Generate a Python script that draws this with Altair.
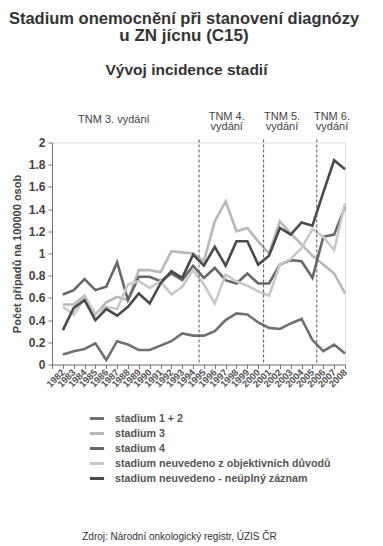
import altair as alt
import pandas as pd

years = list(range(1982, 2009))
axis_years = list(range(1981, 2009))

stadium_12 = [0.09, 0.12, 0.14, 0.19, 0.04, 0.21, 0.18, 0.13, 0.13, 0.17, 0.21, 0.28, 0.26,
              0.26, 0.30, 0.40, 0.46, 0.45, 0.38, 0.33, 0.32, 0.37, 0.41, 0.22, 0.12, 0.18, 0.10]
stadium_3 = [0.54, 0.54, 0.62, 0.45, 0.56, 0.61, 0.58, 0.85, 0.85, 0.83, 1.02, 1.01, 1.00,
             0.93, 1.29, 1.47, 1.20, 1.23, 1.11, 1.00, 1.29, 1.18, 1.08, 0.98, 0.90, 0.82, 0.64]
stadium_4 = [0.63, 0.67, 0.77, 0.67, 0.70, 0.92, 0.58, 0.79, 0.79, 0.75, 0.82, 0.76, 0.89,
             0.78, 0.87, 0.76, 0.73, 0.82, 0.73, 0.73, 0.90, 0.94, 0.93, 0.78, 1.15, 1.17, 1.42]
neuvedeno_obj = [0.52, 0.45, 0.60, 0.46, 0.52, 0.50, 0.72, 0.75, 0.69, 0.75, 0.63, 0.70, 0.85,
                 0.72, 0.55, 0.81, 0.75, 0.71, 0.66, 0.62, 0.90, 0.95, 1.05, 1.22, 1.15, 1.03, 1.45]
neuvedeno_neupl = [0.31, 0.51, 0.58, 0.40, 0.50, 0.44, 0.52, 0.64, 0.55, 0.73, 0.84, 0.78, 0.99,
                   0.89, 1.06, 0.89, 1.11, 1.11, 0.90, 0.98, 1.23, 1.17, 1.28, 1.25, 1.55, 1.84, 1.76]

series_names = ["stadium 1 + 2", "stadium 3", "stadium 4",
                "stadium neuvedeno z objektivních důvodů",
                "stadium neuvedeno - neúplný záznam"]
series_values = [stadium_12, stadium_3, stadium_4, neuvedeno_obj, neuvedeno_neupl]
series_colors = ["#707070", "#b8b8b8", "#686868", "#c8c8c8", "#4a4a4a"]

y_ticks = [0, 0.2, 0.4, 0.6, 0.8, 1, 1.2, 1.4, 1.6, 1.8, 2]

tnm_years = [1994.55, 2000.5, 2005.4]
tnm3_label = ["TNM  3. vydání"]
tnm3_pos = [1986.7]
tnm_labels = ["TNM 4.\nvydání", "TNM 5.\nvydání", "TNM 6.\nvydání"]
tnm_label_pos = [1997.1, 2002.2, 2006.8]

title_1 = "Stadium onemocnění při stanovení diagnózy"
title_2 = "u ZN jícnu (C15)"
subtitle = "Vývoj incidence stadií"
source = "Zdroj: Národní onkologický registr, ÚZIS ČR"

rows = []
for name, vals in zip(series_names, series_values):
    for yr, v in zip(years, vals):
        rows.append({"rok": yr, "hodnota": v, "serie": name,
                     "poradi": series_names.index(name)})
df = pd.DataFrame(rows)

W, H = 293, 222
FONT = "Liberation Sans"

x_scale = alt.Scale(domain=[1981, 2008], nice=False, zero=False)
y_scale = alt.Scale(domain=[0, 2], nice=False)

x_axis = alt.Axis(values=axis_years, format="d",
                  labelExpr="datum.value == 1981 ? '' : datum.label",
                  labelAngle=315, labelAlign="right", labelBaseline="middle",
                  labelFontSize=9.5, labelFontWeight="bold", labelColor="#555",
                  labelOverlap=False, labelFlush=False, labelPadding=2,
                  tickSize=4, tickColor="#777", domainColor="#777",
                  grid=False, title=None)


def x_enc():
    return alt.X("rok:Q", scale=x_scale, axis=x_axis)


lines = alt.Chart(df).mark_line(strokeWidth=2.6, clip=False).encode(
    x=x_enc(),
    y=alt.Y("hodnota:Q", scale=y_scale,
            axis=alt.Axis(values=y_ticks, format="~g",
                          labelFontSize=12, labelFontWeight="bold", labelColor="#444",
                          labelPadding=3, tickSize=4, tickColor="#777",
                          domainColor="#777", grid=False,
                          title="Počet případů na 100000 osob",
                          titleFontSize=11, titleFontWeight="bold", titleColor="#444",
                          titleAngle=270, titleX=-35, titleY=H / 2,
                          titleAlign="center", titleBaseline="middle")),
    color=alt.Color("serie:N",
                    scale=alt.Scale(domain=series_names, range=series_colors),
                    legend=alt.Legend(orient="none", legendX=36, legendY=267,
                                      title=None, symbolType="stroke",
                                      symbolStrokeWidth=3, symbolSize=200,
                                      labelFontSize=10.7, labelFontWeight="bold",
                                      labelColor="#555", labelOffset=9,
                                      labelLimit=400, rowPadding=-1)),
    order=alt.Order("poradi:Q"),
)

rules = alt.Chart(pd.DataFrame({"rok": tnm_years})).mark_rule(
    strokeDash=[3, 2], strokeWidth=1, color="#555").encode(
    x=x_enc(), y=alt.value(-3), y2=alt.value(H))

tnm3 = alt.Chart(pd.DataFrame({"rok": tnm3_pos, "t": tnm3_label})).mark_text(
    fontSize=11, color="#444", font=FONT, align="center", baseline="alphabetic").encode(
    x=x_enc(), y=alt.value(-19.5), text="t:N")

tnm = alt.Chart(pd.DataFrame({"rok": tnm_label_pos, "t": tnm_labels})).mark_text(
    fontSize=11, color="#444", font=FONT, align="center", baseline="alphabetic",
    lineBreak="\n", lineHeight=10.5).encode(
    x=x_enc(), y=alt.value(-23), text="t:N")


def label(txt, x, y, size, weight="normal", color="#333"):
    return alt.Chart(pd.DataFrame({"t": [txt]})).mark_text(
        fontSize=size, fontWeight=weight, color=color, font=FONT,
        align="center", baseline="alphabetic").encode(
        x=alt.value(x), y=alt.value(y), text="t:N")


titles = (label(title_1, 132, -119, 16.5, "bold")
          + label(title_2, 132, -102, 17, "bold")
          + label(subtitle, 134.5, -67.5, 15.5, "bold")
          + label(source, 127.5, 397.5, 10, "normal", "#333"))

chart = alt.layer(lines, rules, tnm3, tnm, titles).properties(
    width=W, height=H,
    autosize=alt.AutoSizeParams(type="none"),
    padding={"left": 44, "top": 134.5, "right": 30, "bottom": 181},
).configure_view(stroke=None).configure(font=FONT)

chart.save("out.html", embed_options={"renderer": "svg", "actions": False})
